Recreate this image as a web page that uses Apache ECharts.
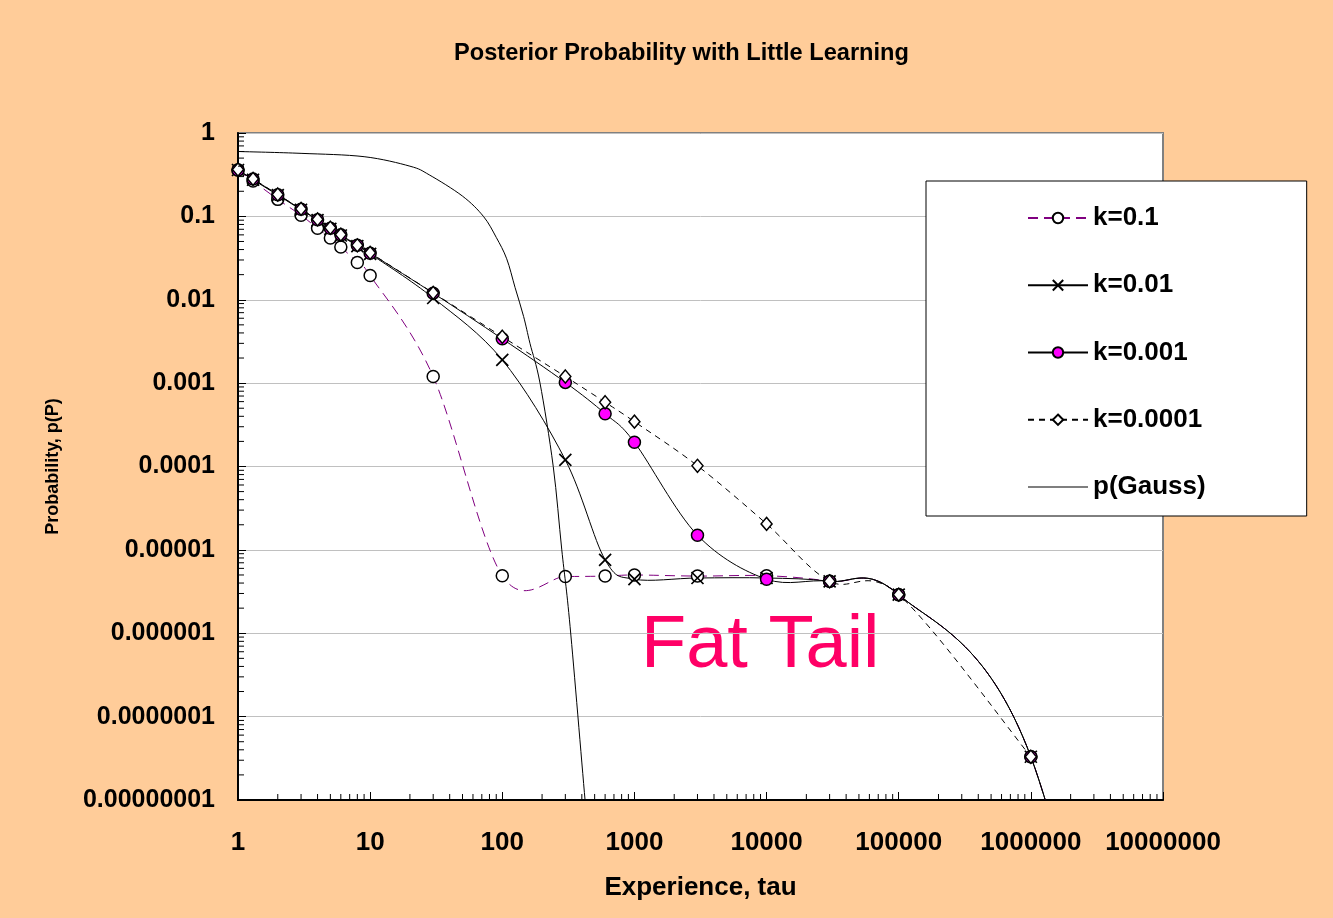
<!DOCTYPE html>
<html>
<head>
<meta charset="utf-8">
<title>Posterior Probability with Little Learning</title>
<script src="https://cdn.jsdelivr.net/npm/echarts@6/dist/echarts.min.js"></script>
<style>
  html, body { margin: 0; padding: 0; background: #FFCC99; }
  #chart { width: 1333px; height: 918px; }
</style>
</head>
<body>
<div id="chart"></div>
<script>
// Experience (tau) sample points shared by the k-series; the last one lies beyond the plotted range
const tau = [1, 1.3, 2, 3, 4, 5, 6, 8, 10, 30, 100, 300, 600, 1000, 3000, 10000, 30000, 100000, 1000000, 10000000];

// Posterior probability for each learning constant k
const pK1 = [0.36, 0.265, 0.16, 0.103, 0.072, 0.055, 0.043, 0.028, 0.0195, 0.0012, 4.9e-6, 4.8e-6, 4.85e-6, 5.0e-6, 4.85e-6, 4.9e-6, 4.2e-6, 2.9e-6, 3.3e-8, 1e-14];
const pK2 = [0.36, 0.275, 0.18, 0.12, 0.09, 0.071, 0.059, 0.044, 0.0355, 0.0105, 0.0019, 1.2e-4, 7.6e-6, 4.45e-6, 4.6e-6, 4.6e-6, 4.2e-6, 2.9e-6, 3.3e-8, 1e-14];
const pK3 = [0.36, 0.28, 0.182, 0.122, 0.091, 0.072, 0.06, 0.045, 0.0362, 0.012, 0.0034, 0.00102, 4.3e-4, 1.95e-4, 1.5e-5, 4.45e-6, 4.2e-6, 2.9e-6, 3.3e-8, 1e-14];
const pK4 = [0.365, 0.282, 0.183, 0.123, 0.092, 0.073, 0.0605, 0.045, 0.0365, 0.0121, 0.0036, 0.0012, 5.9e-4, 3.45e-4, 1.02e-4, 2.05e-5, 4.2e-6, 2.9e-6, 3.3e-8, null];

// Gaussian reference curve
const gaussTau = [1, 3, 9, 20, 28, 50, 72, 90, 108, 125, 145, 162, 193, 243, 282, 326, 423, 460];
const gaussP = [0.60, 0.57, 0.52, 0.40, 0.315, 0.175, 0.10, 0.056, 0.031, 0.014, 0.0063, 0.003, 0.001, 1e-4, 1e-5, 1.2e-6, 1e-8, 2.4e-9];

const seriesNames = ['k=0.1', 'k=0.01', 'k=0.001', 'k=0.0001', 'p(Gauss)'];

// Tick labels, indexed by decade exponent
const xTickLabels = ['1', '10', '100', '1000', '10000', '100000', '1000000', '10000000'];
const yTickLabels = ['0.00000001', '0.0000001', '0.000001', '0.00001', '0.0001', '0.001', '0.01', '0.1', '1'];

const FONT = '"Liberation Sans", Arial, sans-serif';

function pairs(xs, ys) {
  return xs.map((x, i) => [x, ys[i]]).filter(p => p[1] != null);
}

// Minor tick positions (2..9 within each decade)
const xMinor = [];
for (let e = 0; e < 7; e++) for (let m = 2; m <= 9; m++) xMinor.push([m * Math.pow(10, e), 1e-8]);
const yMinor = [];
for (let e = -8; e < 0; e++) for (let m = 2; m <= 9; m++) yMinor.push([1, m * Math.pow(10, e)]);

// Spreadsheet-style smoothed curve: a Catmull-Rom spline through the points,
// computed in pixel space from the axis scales and clipped to the plot area.
function splineCurve(id, xs, ys, stroke, dash, z) {
  const pts = pairs(xs, ys);
  return {
    id: id,
    type: 'custom',
    silent: true,
    z: z,
    data: [pts[0]],
    renderItem: (params, api) => {
      const px = pts.map(p => api.coord(p));
      let d = 'M' + px[0][0] + ',' + px[0][1];
      for (let i = 0; i < px.length - 1; i++) {
        const p0 = px[i - 1] || px[i];
        const p1 = px[i];
        const p2 = px[i + 1];
        const p3 = px[i + 2] || px[i + 1];
        const c1x = p1[0] + (p2[0] - p0[0]) / 6, c1y = p1[1] + (p2[1] - p0[1]) / 6;
        const c2x = p2[0] - (p3[0] - p1[0]) / 6, c2y = p2[1] - (p3[1] - p1[1]) / 6;
        d += ' C' + c1x + ',' + c1y + ',' + c2x + ',' + c2y + ',' + p2[0] + ',' + p2[1];
      }
      const cs = params.coordSys;
      return {
        type: 'group',
        clipPath: { type: 'rect', shape: { x: cs.x, y: cs.y, width: cs.width, height: cs.height } },
        children: [{
          type: 'path',
          shape: { pathData: d },
          style: { fill: 'none', stroke: stroke, lineWidth: 1, lineDash: dash || null }
        }]
      };
    }
  };
}

const chart = echarts.init(document.getElementById('chart'), null, { renderer: 'canvas' });

const option = {
  backgroundColor: '#FFCC99',
  animation: false,
  title: {
    text: 'Posterior Probability with Little Learning',
    left: 454,
    top: 41,
    padding: 0,
    textStyle: { fontFamily: FONT, fontSize: 23.6, fontWeight: 'bold', color: '#000' }
  },
  grid: {
    left: 238, right: 170, top: 133, bottom: 118,
    show: true,
    backgroundColor: '#FFFFFF',
    borderColor: '#808080',
    borderWidth: 2,
    outerBoundsMode: 'none',
    containLabel: false
  },
  legend: {
    data: [
      { name: 'k=0.1', lineStyle: { opacity: 1 } },
      { name: 'k=0.01', lineStyle: { opacity: 1 } },
      { name: 'k=0.001', lineStyle: { opacity: 1 } },
      { name: 'k=0.0001', lineStyle: { opacity: 1 } },
      { name: 'p(Gauss)', lineStyle: { opacity: 1, color: '#555555', width: 1.5 }, itemStyle: { opacity: 0 } }
    ],
    orient: 'vertical',
    left: 926,
    top: 181,
    padding: [24, 101, 16, 101],
    itemGap: 41.25,
    itemWidth: 60,
    itemHeight: 13,
    backgroundColor: '#FFFFFF',
    borderColor: '#000000',
    borderWidth: 1,
    borderRadius: 0,
    textStyle: { fontFamily: FONT, fontSize: 26, fontWeight: 'bold', color: '#000', lineHeight: 26 }
  },
  xAxis: {
    type: 'log',
    logBase: 10,
    min: 1,
    max: 10000000,
    splitNumber: 7,
    name: 'Experience, tau',
    nameLocation: 'middle',
    nameGap: 75,
    nameTextStyle: { fontFamily: FONT, fontSize: 26, fontWeight: 'bold', color: '#000' },
    axisLine: { show: true, lineStyle: { color: '#000', width: 2 } },
    axisTick: { show: true, inside: true, length: 8, lineStyle: { color: '#000', width: 1 } },
    minorTick: { show: false },
    splitLine: { show: false },
    axisLabel: {
      margin: 30,
      fontFamily: FONT, fontSize: 26, fontWeight: 'bold', color: '#000',
      showMinLabel: true, showMaxLabel: true, hideOverlap: false,
      formatter: v => xTickLabels[Math.round(Math.log10(v))]
    }
  },
  yAxis: {
    type: 'log',
    logBase: 10,
    min: 1e-8,
    max: 1,
    splitNumber: 8,
    name: 'Probability, p(P)',
    nameLocation: 'middle',
    nameGap: 176,
    nameTextStyle: { fontFamily: FONT, fontSize: 18, fontWeight: 'bold', color: '#000' },
    axisLine: { show: true, lineStyle: { color: '#000', width: 2 } },
    axisTick: { show: true, inside: true, length: 8, lineStyle: { color: '#000', width: 1 } },
    minorTick: { show: false },
    splitLine: { show: true, lineStyle: { color: '#C0C0C0', width: 1 } },
    axisLabel: {
      margin: 23,
      fontFamily: FONT, fontSize: 25, fontWeight: 'bold', color: '#000',
      showMinLabel: true, showMaxLabel: true, hideOverlap: false,
      formatter: v => yTickLabels[Math.round(Math.log10(v)) + 8]
    }
  },
  graphic: [{
    type: 'text',
    left: 641,
    top: 610,
    silent: true,
    style: {
      text: 'Fat Tail',
      fontFamily: FONT,
      fontSize: 74,
      fill: '#FF0066'
    }
  }],
  series: [
    // Markers (and legend entries); the connecting curves are drawn by the spline series below
    {
      name: 'k=0.1', type: 'line', z: 3,
      data: pairs(tau, pK1),
      symbol: 'circle', symbolSize: 12,
      itemStyle: { color: '#FFFFFF', borderColor: '#000000', borderWidth: 1.5 },
      lineStyle: { color: '#800080', width: 1, type: [10, 6], opacity: 0 }
    },
    {
      name: 'k=0.01', type: 'line', z: 3,
      data: pairs(tau, pK2),
      symbol: 'path://M0,0L10,10M10,0L0,10', symbolSize: 12,
      itemStyle: { color: 'none', borderColor: '#000000', borderWidth: 1.7 },
      lineStyle: { color: '#000000', width: 1, opacity: 0 }
    },
    {
      name: 'k=0.001', type: 'line', z: 3,
      data: pairs(tau, pK3),
      symbol: 'circle', symbolSize: 12,
      itemStyle: { color: '#FF00FF', borderColor: '#000000', borderWidth: 1.5 },
      lineStyle: { color: '#000000', width: 1, opacity: 0 }
    },
    {
      name: 'k=0.0001', type: 'line', z: 3,
      data: pairs(tau, pK4),
      symbol: 'diamond', symbolSize: [11, 13],
      itemStyle: { color: '#FFFFFF', borderColor: '#000000', borderWidth: 1.5 },
      lineStyle: { color: '#000000', width: 1, type: [6, 5], opacity: 0 }
    },
    {
      name: 'p(Gauss)', type: 'line', z: 3,
      data: pairs(gaussTau, gaussP),
      symbol: 'none',
      itemStyle: { color: '#000000' },
      lineStyle: { color: '#000000', width: 1, opacity: 0 }
    },
    splineCurve('curveK1', tau, pK1, '#800080', [10, 6], 2),
    splineCurve('curveK2', tau, pK2, '#000000', null, 2),
    splineCurve('curveK3', tau, pK3, '#000000', null, 2),
    splineCurve('curveK4', tau, pK4, '#000000', [6, 5], 2),
    splineCurve('curveGauss', gaussTau, gaussP, '#000000', null, 4),
    {
      id: 'xMinorTicks', type: 'custom', silent: true, z: 4,
      data: xMinor,
      renderItem: (params, api) => {
        const p = api.coord([api.value(0), api.value(1)]);
        return { type: 'line', shape: { x1: p[0], y1: p[1], x2: p[0], y2: p[1] - 6 }, style: { stroke: '#000', lineWidth: 1 } };
      }
    },
    {
      id: 'yMinorTicks', type: 'custom', silent: true, z: 4,
      data: yMinor,
      renderItem: (params, api) => {
        const p = api.coord([api.value(0), api.value(1)]);
        return { type: 'line', shape: { x1: p[0], y1: p[1], x2: p[0] + 6, y2: p[1] }, style: { stroke: '#000', lineWidth: 1 } };
      }
    }
  ]
};

chart.setOption(option);
</script>
</body>
</html>
